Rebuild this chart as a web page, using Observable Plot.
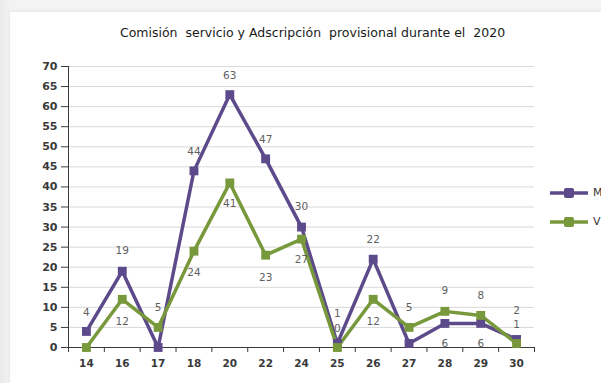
<!DOCTYPE html>
<html>
<head>
<meta charset="utf-8">
<script src="https://cdn.jsdelivr.net/npm/d3@7"></script>
<script src="https://cdn.jsdelivr.net/npm/@observablehq/plot@0.6"></script>
<style>
  html, body { margin: 0; padding: 0; width: 601px; height: 383px; overflow: hidden; }
  body { background: linear-gradient(to right, #e9e9e9 0px, #f3f3f3 10px); position: relative; font-family: "DejaVu Sans", sans-serif; }
  #panel { position: absolute; left: 10px; top: 12px; right: 0; bottom: 0; background: #fff; box-shadow: 0 0 3px #ddd; }
  #chart { position: absolute; left: 0; top: 0; }
  #legend { position: absolute; left: 550px; top: 178px; font-size: 11px; color: #333; }
  .li { display: flex; align-items: center; height: 29px; }
  .li svg { margin-right: 3px; }
</style>
</head>
<body>
<div id="panel"></div>
<div id="chart"></div>
<div id="legend"></div>
<script>
const titleText = "Comisión  servicio y Adscripción  provisional durante el  2020";
const categories = ["14","16","17","18","20","22","24","25","26","27","28","29","30"];
const seriesNames = ["M", "V"];
const seriesM = [4, 19, 0, 44, 63, 47, 30, 1, 22, 1, 6, 6, 2];
const seriesV = [0, 12, 5, 24, 41, 23, 27, 0, 12, 5, 9, 8, 1];
const yTicks = [0, 5, 10, 15, 20, 25, 30, 35, 40, 45, 50, 55, 60, 65, 70];

// label placement (style, kept apart from data): vertical offsets in px, null = hidden
const labelDyM = [-19, -21, null, -19, -19, -19, -20, -30, -20, null, 20, 20, -29];
const labelDyV = [null, 22, -20, 21, 21, 22, 21, -19, 22, -20, -21, -20, -19];

const colors = ["#5c4a8a", "#78983c"];

const rows = [];
seriesNames.forEach((s, k) => {
  const vals = k === 0 ? seriesM : seriesV;
  const dys = k === 0 ? labelDyM : labelDyV;
  categories.forEach((c, i) => rows.push({i, cat: c, value: vals[i], series: s, dy: dys[i]}));
});

const labelRows = rows.filter(d => d.dy !== null);
const byDy = d3.group(labelRows, d => d.dy);
const labelMarks = Array.from(byDy, ([dy, arr]) =>
  Plot.text(arr, {x: "i", y: "value", text: d => String(d.value), dy, fill: "#5f5f5f", fontSize: 10.5, fontFamily: "DejaVu Sans"})
);

const n = categories.length;
const chart = Plot.plot({
  width: 601,
  height: 383,
  marginLeft: 68,
  marginRight: 67,
  marginTop: 66,
  marginBottom: 36,
  style: {background: "transparent", fontFamily: "DejaVu Sans", overflow: "visible"},
  x: {domain: [-0.5, n - 0.5], axis: null},
  y: {domain: [0, 70], axis: null},
  color: {domain: seriesNames, range: colors},
  marks: [
    Plot.gridY({ticks: yTicks.filter(v => v > 0), stroke: "#d9d9d9", strokeOpacity: 1}),
    Plot.axisY({ticks: yTicks, label: null, tickSize: 7, tickPadding: 4, fontWeight: "bold", fontSize: 11, color: "#3a3a3a"}),
    Plot.axisX({ticks: d3.range(n), label: null, tickSize: 0, tickPadding: 12, tickFormat: i => categories[i], fontWeight: "bold", fontSize: 10.5, color: "#3a3a3a"}),
    Plot.axisX({ticks: d3.range(n + 1).map(i => i - 0.5), label: null, tickSize: 5, tickFormat: () => "", color: "#3a3a3a"}),
    Plot.ruleX([-0.5], {stroke: "#3a3a3a"}),
    Plot.ruleY([0], {stroke: "#3a3a3a"}),
    Plot.line(rows, {x: "i", y: "value", z: "series", stroke: "series", strokeWidth: 3.5}),
    Plot.dot(rows, {x: "i", y: "value", fill: "series", symbol: "square", r: 5}),
    ...labelMarks,
    Plot.text([titleText], {frameAnchor: "top", dy: -38, dx: 11, fontSize: 12.5, fill: "#1a1a1a", fontFamily: "DejaVu Sans"})
  ]
});
document.getElementById("chart").appendChild(chart);

const legend = document.getElementById("legend");
seriesNames.forEach((s, k) => {
  const item = document.createElement("div");
  item.className = "li";
  item.innerHTML = `<svg width="40" height="12"><line x1="0" x2="38" y1="6" y2="6" stroke="${colors[k]}" stroke-width="3.5"/><rect x="14" y="1" width="10" height="10" rx="2" fill="${colors[k]}"/></svg><span>${s}</span>`;
  legend.appendChild(item);
});
</script>
</body>
</html>
